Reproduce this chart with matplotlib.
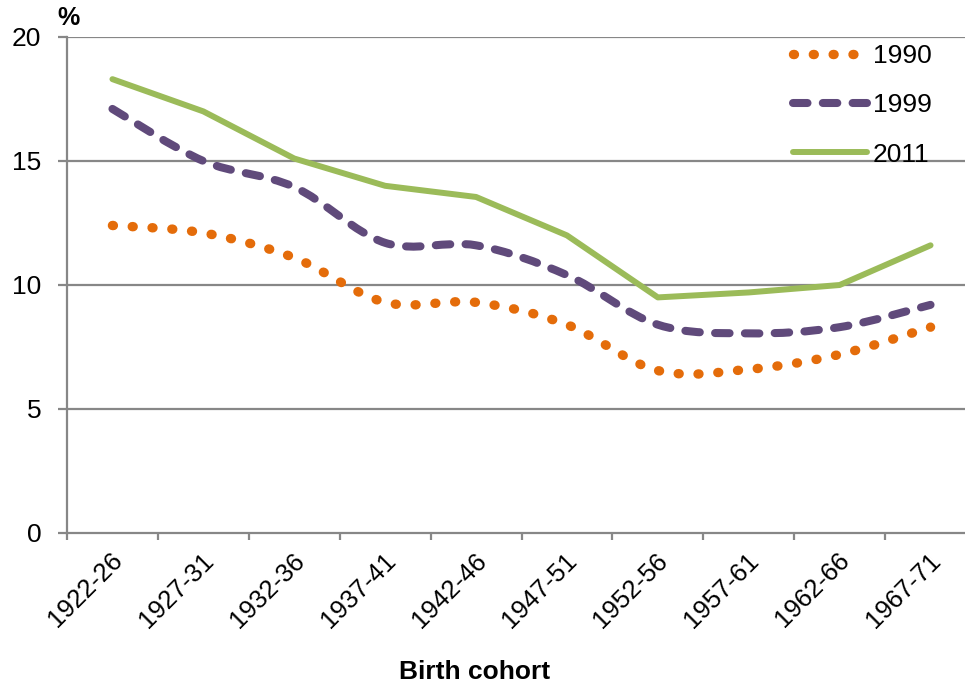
import matplotlib
matplotlib.use("Agg")
import matplotlib.pyplot as plt
import matplotlib.transforms as mtransforms
import numpy as np
from matplotlib.path import Path
from matplotlib.patches import PathPatch
from matplotlib.lines import Line2D

plt.rcParams['font.family'] = ['Liberation Sans', 'DejaVu Sans']

cohorts = ["1922-26", "1927-31", "1932-36", "1937-41", "1942-46",
           "1947-51", "1952-56", "1957-61", "1962-66", "1967-71"]
y1990 = [12.4, 12.1, 11.1, 9.3, 9.3, 8.4, 6.55, 6.6, 7.2, 8.3]
y1999 = [17.1, 15.0, 13.95, 11.7, 11.6, 10.4, 8.4, 8.05, 8.3, 9.2]
y2011 = [18.3, 17.0, 15.1, 14.0, 13.55, 12.0, 9.5, 9.7, 10.0, 11.6]
yticks = [0, 5, 10, 15, 20]

c1990 = '#E46C0A'
c1999 = '#604A7B'
c2011 = '#9BBB59'
grid_c = '#878787'

W, H = 965, 688
fig = plt.figure(figsize=(W / 100, H / 100), dpi=100)
L, R, T, B = 67, 976, 37, 533
ax = fig.add_axes([L / W, (H - B) / H, (R - L) / W, (B - T) / H])

x = np.arange(len(cohorts))


def smooth_path(xs, ys):
    pts = np.column_stack([xs, ys]).astype(float)
    n = len(pts)
    verts = [pts[0]]
    codes = [Path.MOVETO]
    for i in range(n - 1):
        p0 = pts[i - 1] if i > 0 else pts[i]
        p1 = pts[i]
        p2 = pts[i + 1]
        p3 = pts[i + 2] if i + 2 < n else pts[i + 1]
        c1 = p1 + (p2 - p0) / 6.0
        c2 = p2 - (p3 - p1) / 6.0
        verts += [c1, c2, p2]
        codes += [Path.CURVE4] * 3
    return Path(verts, codes)


lw_dot = 6.8
lw_dash = 5.8
lw_solid = 4.3
dot_style = (0, (0.1, 2.0))
dash_style = (0, (1.8, 1.9))

ax.add_patch(PathPatch(smooth_path(x, y1990), fill=False, edgecolor=c1990, lw=lw_dot,
                       linestyle=dot_style, capstyle='round', zorder=3))
ax.add_patch(PathPatch(smooth_path(x, y1999), fill=False, edgecolor=c1999, lw=lw_dash,
                       linestyle=dash_style, capstyle='round', zorder=3))
ax.plot(x, y2011, color=c2011, lw=lw_solid, solid_capstyle='round', zorder=3)

ax.set_xlim(-0.5, len(cohorts) - 0.5)
ax.set_ylim(0, 20)

for s in ['top', 'right']:
    ax.spines[s].set_visible(False)
for s in ['left', 'bottom']:
    ax.spines[s].set_color(grid_c)
    ax.spines[s].set_linewidth(1.6)

ax.set_yticks(yticks)
ax.set_yticklabels([str(v) for v in yticks])
ax.tick_params(axis='y', length=6.5, width=1.6, color=grid_c, labelsize=19, pad=12)
for v in yticks[1:]:
    ax.axhline(v, color=grid_c, lw=1.6, zorder=1)

ax.set_xticks(x)
ax.set_xticklabels(cohorts, rotation=45, ha='right', va='top', rotation_mode='anchor')
ax.set_xticks(np.arange(-0.5, len(cohorts), 1.0), minor=True)
ax.tick_params(axis='x', which='major', length=0, labelsize=18.5, pad=11)
ax.tick_params(axis='x', which='minor', length=5, width=1.6, color=grid_c)
shift = mtransforms.ScaledTranslation(-2 / 100, 0, fig.dpi_scale_trans)
for lab in ax.get_xticklabels():
    lab.set_transform(lab.get_transform() + shift)

fig.text(475 / W, 1 - 672 / H, 'Birth cohort', fontsize=19, fontweight='bold',
         ha='center', va='center')
fig.text(69 / W, 1 - 18 / H, '%', fontsize=18, fontweight='bold', ha='center', va='center')

handles = [Line2D([], [], color=c1990, lw=lw_dot, linestyle=dot_style, dash_capstyle='round'),
           Line2D([], [], color=c1999, lw=lw_dash, linestyle=dash_style, dash_capstyle='round'),
           Line2D([], [], color=c2011, lw=lw_solid, solid_capstyle='round')]
leg = fig.legend(handles, ['1990', '1999', '2011'], loc='upper left',
                 bbox_to_anchor=(793 / W, 1 - 44 / H), frameon=False, fontsize=19,
                 handlelength=2.8, handletextpad=0.23, labelspacing=0.96, borderpad=0,
                 borderaxespad=0)

fig.savefig('out.png', dpi=100)
